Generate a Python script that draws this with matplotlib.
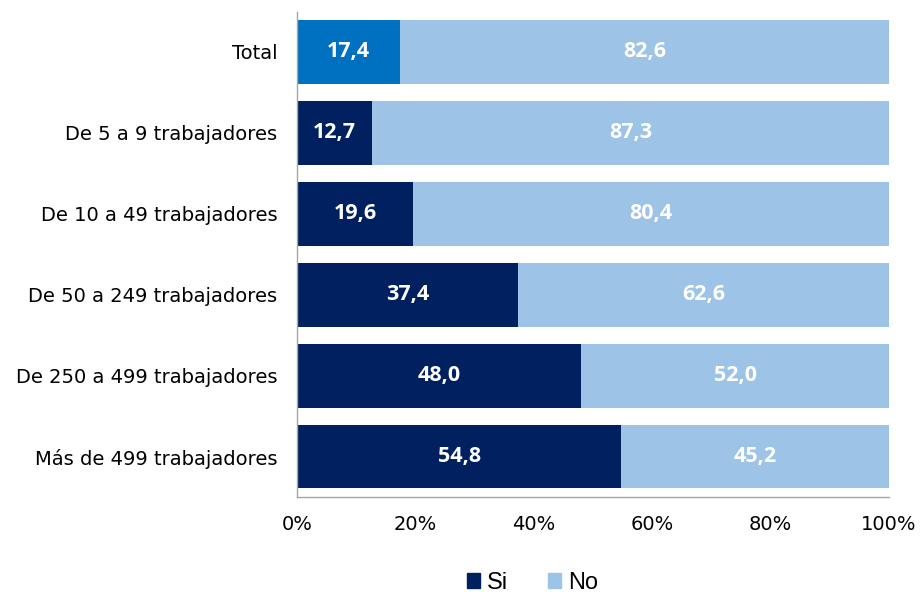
import matplotlib
matplotlib.use("Agg")
import matplotlib.pyplot as plt
from matplotlib.patches import Patch

categories = ["Total", "De 5 a 9 trabajadores", "De 10 a 49 trabajadores",
              "De 50 a 249 trabajadores", "De 250 a 499 trabajadores",
              "Más de 499 trabajadores"]
si_values = [17.4, 12.7, 19.6, 37.4, 48.0, 54.8]
no_values = [82.6, 87.3, 80.4, 62.6, 52.0, 45.2]
x_ticks = [0, 20, 40, 60, 80, 100]

c_total = "#0070C0"
c_si = "#002060"
c_no = "#9DC3E6"

fig = plt.figure(figsize=(9.21, 5.92), dpi=100)
ax = fig.add_axes([0.3225, 0.1605, 0.6428, 0.82])

y = list(range(len(categories)))
si_colors = [c_total if c == "Total" else c_si for c in categories]
bars_si = ax.barh(y, si_values, height=0.79, color=si_colors)
bars_no = ax.barh(y, no_values, left=si_values, height=0.79, color=c_no)

fmt = lambda v: f"{v:.1f}".replace(".", ",")
for bars, vals in ((bars_si, si_values), (bars_no, no_values)):
    for b, v in zip(bars, vals):
        ax.text(b.get_x() + b.get_width() / 2, b.get_y() + b.get_height() / 2,
                fmt(v), ha="center", va="center", color="white",
                fontsize=15.5, fontweight="bold", family="Open Sans")

ax.set_ylim(len(categories) - 0.5, -0.5)
ax.set_xlim(0, 100)
ax.set_yticks(y)
ax.set_yticklabels(categories, fontsize=14, family="DejaVu Sans")
ax.set_xticks(x_ticks)
ax.set_xticklabels([f"{t}%" for t in x_ticks], fontsize=14, family="DejaVu Sans")
ax.tick_params(axis="both", length=0)
ax.tick_params(axis="y", pad=14)
ax.tick_params(axis="x", pad=13)

for s in ("top", "right"):
    ax.spines[s].set_visible(False)
for s in ("left", "bottom"):
    ax.spines[s].set_color("#A6A6A6")
    ax.spines[s].set_linewidth(1.0)

handles = [Patch(color=c_si, label="Si"), Patch(color=c_no, label="No")]
fig.legend(handles=handles, loc="center", bbox_to_anchor=(0.578, 0.016),
           ncol=2, frameon=False, handlelength=0.55, handleheight=0.6,
           handletextpad=0.3, columnspacing=1.7,
           prop={"family": "Liberation Sans", "size": 17})

fig.savefig("out.png", dpi=100)
